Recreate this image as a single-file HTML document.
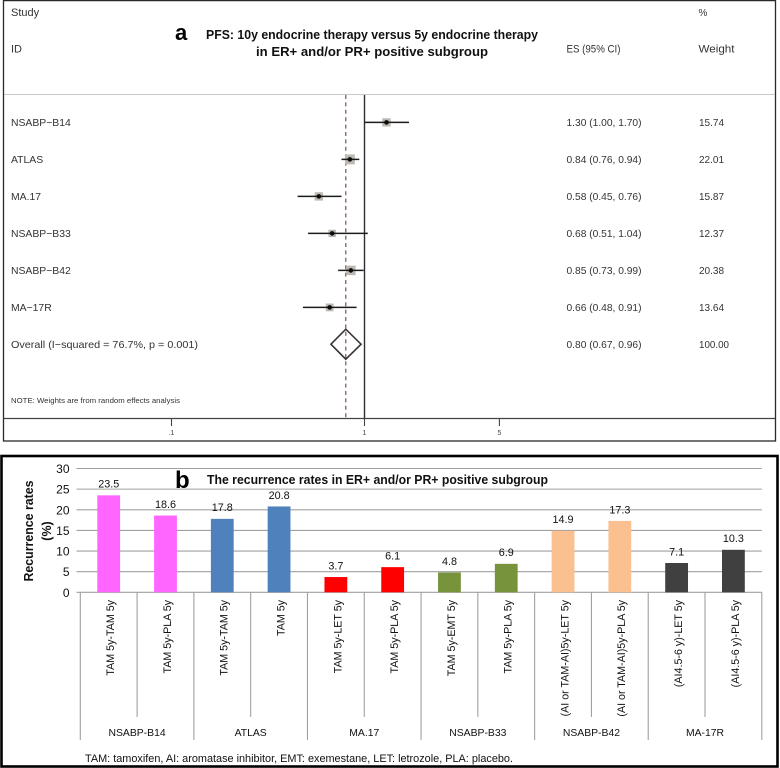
<!DOCTYPE html>
<html>
<head>
<meta charset="utf-8">
<title>Forest plot and recurrence rates</title>
<style>
html,body{margin:0;padding:0;background:#fff;width:780px;height:768px;overflow:hidden}
svg{display:block;font-family:"Liberation Sans",sans-serif;filter:blur(0.3px)}
</style>
</head>
<body>
<svg id="fig" xmlns="http://www.w3.org/2000/svg" width="780" height="768" viewBox="0 0 780 768">
  <rect x="0" y="0" width="780" height="768" fill="#fff"/>

  <g id="panelA">
    <rect x="3.5" y="0.6" width="772" height="440.4" fill="none" stroke="#2a2a2a" stroke-width="1.3"/>
    <line x1="4" x2="775" y1="94.5" y2="94.5" stroke="#c9c9c3" stroke-width="1.1"/>
    <line x1="4" x2="775" y1="418.5" y2="418.5" stroke="#444" stroke-width="1.2"/>
    <g fill="#333" font-size="11">
      <text x="11" y="16">Study</text>
      <text x="11" y="52.5">ID</text>
      <text x="566.5" y="52.5" textLength="54" lengthAdjust="spacingAndGlyphs">ES (95% CI)</text>
      <text x="698.5" y="16" font-size="10">%</text>
      <text x="698.5" y="52.5" textLength="36" lengthAdjust="spacingAndGlyphs">Weight</text>
      <text x="11" y="403" font-size="7.4" textLength="169" lengthAdjust="spacingAndGlyphs">NOTE: Weights are from random effects analysis</text>
    </g>
    <text x="175" y="40" font-size="22" font-weight="bold" fill="#000">a</text>
    <text x="206" y="39" font-size="12.6" font-weight="bold" fill="#111" textLength="332" lengthAdjust="spacingAndGlyphs">PFS: 10y endocrine therapy versus 5y endocrine therapy</text>
    <text x="256" y="56" font-size="12.6" font-weight="bold" fill="#111" textLength="232" lengthAdjust="spacingAndGlyphs">in ER+ and/or PR+ positive subgroup</text>
  </g>

  <g id="panelB">
    <rect x="1.5" y="456" width="776" height="310.5" fill="none" stroke="#000" stroke-width="2.6"/>
    <text x="175" y="488" font-size="24" font-weight="bold" fill="#000">b</text>
    <text x="207" y="484" font-size="12.6" font-weight="bold" fill="#111" textLength="341" lengthAdjust="spacingAndGlyphs">The recurrence rates in ER+ and/or PR+ positive subgroup</text>
    <text transform="translate(33,531) rotate(-90)" text-anchor="middle" font-size="13" font-weight="bold" fill="#111" textLength="101" lengthAdjust="spacingAndGlyphs">Recurrence rates</text>
    <text transform="translate(51,531) rotate(-90)" text-anchor="middle" font-size="12.5" font-weight="bold" fill="#111">(%)</text>
    <text x="85" y="762" font-size="11.4" fill="#111" textLength="428" lengthAdjust="spacingAndGlyphs">TAM: tamoxifen, AI: aromatase inhibitor, EMT: exemestane, LET: letrozole, PLA: placebo.</text>
  </g>
</svg>
<script>
// ---- Forest plot data ----
var studies = ["NSABP\u2212B14", "ATLAS", "MA.17", "NSABP\u2212B33", "NSABP\u2212B42", "MA\u221217R"];
var esValues = [1.30, 0.84, 0.58, 0.68, 0.85, 0.66];
var ciLow = [1.00, 0.76, 0.45, 0.51, 0.73, 0.48];
var ciHigh = [1.70, 0.94, 0.76, 1.04, 0.99, 0.91];
var weights = [15.74, 22.01, 15.87, 12.37, 20.38, 13.64];
var overallLabel = "Overall  (I\u2212squared = 76.7%, p = 0.001)";
var overallEs = [0.80];
var overallLow = [0.67];
var overallHigh = [0.96];
var overallWeight = [100.00];
var forestTicks = [0.1, 1, 5];
var forestTickLabels = [".1", "1", "5"];

// ---- Bar chart data ----
var barLabels = ["TAM 5y-TAM 5y", "TAM 5y-PLA 5y", "TAM 5y-TAM 5y", "TAM 5y", "TAM 5y-LET 5y", "TAM 5y-PLA 5y", "TAM 5y-EMT 5y", "TAM 5y-PLA 5y", "(AI or TAM-AI)5y-LET 5y", "(AI or TAM-AI)5y-PLA 5y", "(AI4.5-6 y)-LET 5y", "(AI4.5-6 y)-PLA 5y"];
var barValues = [23.5, 18.6, 17.8, 20.8, 3.7, 6.1, 4.8, 6.9, 14.9, 17.3, 7.1, 10.3];
var barGroups = ["NSABP-B14", "ATLAS", "MA.17", "NSABP-B33", "NSABP-B42", "MA-17R"];
var barColors = ["#ff66ff", "#4f81bd", "#ff0000", "#77933c", "#fac090", "#404040"];
var yTicks = [0, 5, 10, 15, 20, 25, 30];

var NS = "http://www.w3.org/2000/svg";
function mk(parent, tag, attrs, text) {
  var el = document.createElementNS(NS, tag);
  for (var k in attrs) el.setAttribute(k, attrs[k]);
  if (text !== undefined) el.textContent = text;
  parent.appendChild(el);
  return el;
}

// Forest axis functions
function fx(v) { return 364.5 + 193 * Math.log10(v); }
var ROW0 = 122.4, ROWH = 37;
function fy(i) { return ROW0 + i * ROWH; }
function ciText(e, l, h) { return e.toFixed(2) + " (" + l.toFixed(2) + ", " + h.toFixed(2) + ")"; }

var A = document.getElementById("panelA");
var el, i;

el = mk(A, "line", {x1: fx(1), x2: fx(1), y1: 95, y2: 418, stroke: "#2e2e2e", "stroke-width": 1.4});



el = mk(A, "line", {x1: fx(overallEs[0]), x2: fx(overallEs[0]), y1: 95, y2: 418, stroke: "#7a5058", "stroke-width": 1.2, "stroke-dasharray": "4 3.4"});



for (i = 0; i < forestTicks.length; i++) {
  el = mk(A, "line", {x1: fx(forestTicks[i]), x2: fx(forestTicks[i]), y1: 418.5, y2: 426, stroke: "#444", "stroke-width": 1.1});
  
  
  el = mk(A, "text", {x: fx(forestTicks[i]), y: 435, "text-anchor": "middle", "font-size": 7, fill: "#444"}, forestTickLabels[i]);
  
  
}

for (i = 0; i < studies.length; i++) {
  var y = fy(i);
  el = mk(A, "text", {x: 11, y: y + 3.8, "font-size": 10.4, fill: "#333", textLength: 0, lengthAdjust: "spacingAndGlyphs"}, studies[i]);
  el.removeAttribute('textLength');
  
  
  el = mk(A, "text", {x: 566.5, y: y + 3.8, "font-size": 10.2, fill: "#333", textLength: 75, lengthAdjust: "spacingAndGlyphs"}, ciText(esValues[i], ciLow[i], ciHigh[i]));
  
  
  el = mk(A, "text", {x: 699, y: y + 3.8, "font-size": 10.2, fill: "#333", textLength: 25, lengthAdjust: "spacingAndGlyphs"}, weights[i].toFixed(2));
  
  

  var sq = 2.1 * Math.sqrt(weights[i]);
  el = mk(A, "rect", {x: fx(esValues[i]) - sq / 2, y: y - sq / 2, width: sq, height: sq, fill: "#bdb9b2"});
  
  
  el = mk(A, "line", {x1: fx(ciLow[i]), x2: fx(ciHigh[i]), y1: y, y2: y, stroke: "#1c1c1c", "stroke-width": 1.5});
  
  
  el = mk(A, "circle", {cx: fx(esValues[i]), cy: y, r: 2.3, fill: "#0c0c0c"});
  
  
}

var oy = fy(studies.length) - 0.2;
el = mk(A, "text", {x: 11, y: oy + 3.8, "font-size": 10.4, fill: "#333", "xml:space": "preserve", textLength: 187, lengthAdjust: "spacingAndGlyphs"}, overallLabel);


el = mk(A, "text", {x: 566.5, y: oy + 3.8, "font-size": 10.2, fill: "#333", textLength: 75, lengthAdjust: "spacingAndGlyphs"}, ciText(overallEs[0], overallLow[0], overallHigh[0]));


el = mk(A, "text", {x: 699, y: oy + 3.8, "font-size": 10.2, fill: "#333", textLength: 30, lengthAdjust: "spacingAndGlyphs"}, overallWeight[0].toFixed(2));


var dh = 15;
el = mk(A, "polygon", {points: fx(overallLow[0]) + "," + oy + " " + fx(overallEs[0]) + "," + (oy - dh) + " " + fx(overallHigh[0]) + "," + oy + " " + fx(overallEs[0]) + "," + (oy + dh), fill: "none", stroke: "#3a3338", "stroke-width": 1.6});



// Bar chart axis functions
var PLOT_L = 80.3, PLOT_R = 761.8, Y0 = 592.3, Y30 = 468.5, YMAX = 30;
var band = (PLOT_R - PLOT_L) / barValues.length;
function bx(i) { return PLOT_L + band * (i + 0.5); }
function by(v) { return Y0 - (Y0 - Y30) * v / YMAX; }

var B = document.getElementById("panelB");
var gridG = mk(B, "g", {});



for (i = 0; i < yTicks.length; i++) {
  el = mk(gridG, "line", {x1: 76.5, x2: PLOT_R, y1: by(yTicks[i]), y2: by(yTicks[i]), stroke: "#a0a0a0", "stroke-width": 1.1});
  
  
  el = mk(gridG, "text", {x: 69.5, y: by(yTicks[i]) + 4.5, "text-anchor": "end", "font-size": 12, fill: "#111"}, String(yTicks[i]));
  
  
}

for (i = 0; i <= barValues.length; i++) {
  var major = i % 2 === 0;
  el = mk(B, "line", {x1: PLOT_L + band * i, x2: PLOT_L + band * i, y1: Y0, y2: major ? 740 : 717, stroke: "#a0a0a0", "stroke-width": 1.1});
  
  
}

for (i = 0; i < barValues.length; i++) {
  var color = barColors[Math.floor(i / 2)];
  el = mk(B, "rect", {x: bx(i) - 11.4, y: by(barValues[i]), width: 22.8, height: Y0 - by(barValues[i]), fill: color});
  
  
  el = mk(B, "text", {x: bx(i), y: by(barValues[i]) - 7.6, "text-anchor": "middle", "font-size": 10.8, fill: "#111"}, barValues[i].toFixed(1));
  
  
  el = mk(B, "text", {transform: "translate(" + (bx(i) + 5.4) + ",600) rotate(-90)", "text-anchor": "end", "font-size": 10.7, fill: "#111"}, barLabels[i]);
  
  
}

for (i = 0; i < barGroups.length; i++) {
  el = mk(B, "text", {x: PLOT_L + band * (2 * i + 1), y: 736, "text-anchor": "middle", "font-size": 10.4, fill: "#111"}, barGroups[i]);
  
  
}
</script>
</body>
</html>
